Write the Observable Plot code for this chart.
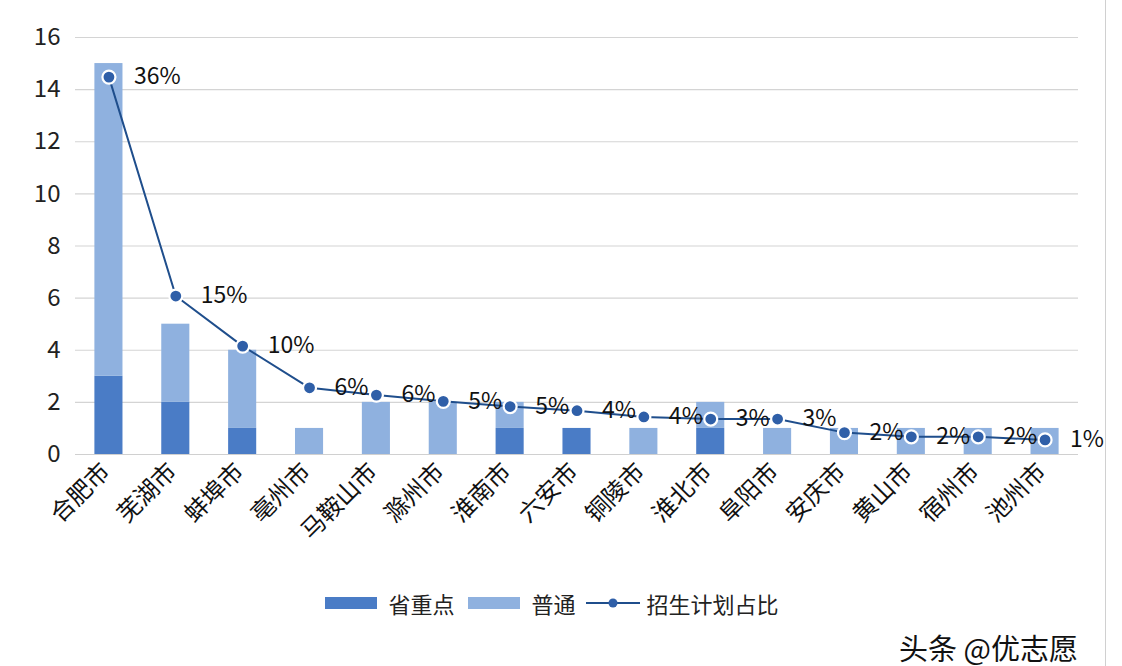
<!DOCTYPE html>
<html>
<head>
<meta charset="utf-8">
<script src="https://cdn.jsdelivr.net/npm/d3@7"></script>
<script src="https://cdn.jsdelivr.net/npm/@observablehq/plot@0.6"></script>
<style>
  html, body { margin: 0; padding: 0; background: #fff; }
  body { width: 1122px; height: 666px; position: relative; overflow: hidden;
         font-family: "Noto Sans CJK SC", "Noto Sans", sans-serif; }
  #chart svg { display: block; }
  .legend { position: absolute; left: 0; top: 587px; width: 1114px; display: flex;
            justify-content: center; align-items: center; font-size: 22px; color: #222; }
  .legend .item { display: flex; align-items: center; margin-right: 10px; }
  .legend .sw { width: 52px; height: 12px; margin-right: 11px; }
  .legend svg { margin-right: 7px; }
  .credit { position: absolute; left: 899px; top: 633px; font-size: 29px; line-height: 1; color: #111; white-space: nowrap; }
  .rborder { position: absolute; left: 1105px; top: 0; width: 1px; height: 666px; background: #d0d0d0; }
</style>
</head>
<body>
<div id="chart"></div>
<div class="legend">
  <div class="item"><div class="sw" style="background:#4a7cc6"></div>省重点</div>
  <div class="item" style="margin-left:4px"><div class="sw" style="background:#8fb1df"></div>普通</div>
  <div class="item">
    <svg width="54" height="14"><line x1="0" y1="7" x2="54" y2="7" stroke="#1f4e8c" stroke-width="2"/><circle cx="27" cy="7" r="4.5" fill="#2f5fa8"/></svg>招生计划占比
  </div>
</div>
<div class="credit">头条 @优志愿</div>
<div class="rborder"></div>
<script>
const cities = ["合肥市","芜湖市","蚌埠市","亳州市","马鞍山市","滁州市","淮南市","六安市","铜陵市","淮北市","阜阳市","安庆市","黄山市","宿州市","池州市"];
const keyCount = [3, 2, 1, 0, 0, 0, 1, 1, 0, 1, 0, 0, 0, 0, 0];       // 省重点
const normalCount = [12, 3, 3, 1, 2, 2, 1, 0, 1, 1, 1, 1, 1, 1, 1];   // 普通
const sharePct = [0.362, 0.152, 0.104, 0.064, 0.057, 0.051, 0.046, 0.042, 0.036, 0.034, 0.034, 0.021, 0.017, 0.017, 0.014]; // 招生计划占比
const yTicks = [0, 2, 4, 6, 8, 10, 12, 14, 16];
const secondaryMax = 0.40; // hidden secondary axis: 0–40%

const bars = [];
cities.forEach((c, i) => {
  bars.push({city: c, type: "省重点", value: keyCount[i]});
  bars.push({city: c, type: "普通", value: normalCount[i]});
});
const line = cities.map((c, i) => ({city: c, pct: sharePct[i]}));
const toPrimary = d => d.pct / secondaryMax * 16;

const chart = Plot.plot({
  width: 1122,
  height: 580,
  marginLeft: 75,
  marginRight: 44,
  marginTop: 37,
  marginBottom: 126,
  style: {fontFamily: '"Noto Sans CJK SC", sans-serif', fontSize: "22px", color: "#222", background: "#fff"},
  x: {domain: cities, paddingInner: 0.58, paddingOuter: 0.29, round: false, label: null},
  y: {domain: [0, 16], ticks: yTicks, label: null},
  color: {domain: ["省重点", "普通"], range: ["#4a7cc6", "#8fb1df"]},
  marks: [
    Plot.gridY(yTicks, {stroke: "#d4d4d4", strokeOpacity: 1, strokeWidth: 1.2}),
    Plot.axisY(yTicks, {tickSize: 0, tickPadding: 15, fontSize: 24, fill: "#222"}),
    Plot.axisX({tickSize: 0, tickPadding: 13, tickRotate: -45, fontSize: 24, fill: "#111", dx: -3}),
    Plot.barY(bars, {x: "city", y: "value", fill: "type", order: ["省重点", "普通"]}),
    Plot.ruleY([0], {stroke: "#d0d0d0", strokeWidth: 1.2}),
    Plot.line(line, {x: "city", y: toPrimary, stroke: "#1f4e8c", strokeWidth: 2, curve: "linear"}),
    Plot.dot(line, {x: "city", y: toPrimary, r: 6.5, fill: "#2f5fa8", stroke: "#fff", strokeWidth: 2.2}),
    Plot.text(line, {x: "city", y: toPrimary, text: d => Math.round(d.pct * 100) + "%", dx: 25, textAnchor: "start", fill: "#111", fontSize: 23})
  ]
});
document.getElementById("chart").appendChild(chart);
</script>
</body>
</html>
